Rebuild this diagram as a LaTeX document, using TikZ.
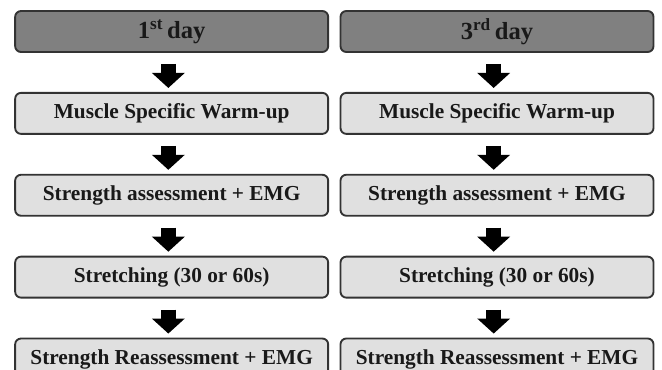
\documentclass[tikz,border=0pt]{standalone}
\usepackage{fontspec}
\setmainfont{Liberation Serif}
\usetikzlibrary{positioning, arrows.meta}

\tikzset{
  daybox/.style={draw=black!80, line width=1.6pt, rounded corners=5pt, fill=black!50,
    minimum width=9.39cm, minimum height=1.23cm, inner sep=0pt, text=black!90,
    font=\bfseries\fontsize{21}{24}\selectfont},
  stepbox/.style={daybox, fill=black!12, font=\bfseries\fontsize{18.2}{21}\selectfont},
  blockarrow/.style={line width=0.45cm, -{Triangle[length=0.45cm,width=0.96cm]},
    shorten <=0.33cm, shorten >=0.12cm, transform canvas={xshift=-0.1cm}}
}

\begin{document}
\begin{tikzpicture}[node distance=1.17cm]

  \useasboundingbox (0,0) rectangle (19.86,-11.07);
  \clip (0,0) rectangle (19.86,-11.07);

  % ==========================================
  % left column: 1st day
  % ==========================================
  \begin{scope}[xshift=0cm]
    \node[daybox] (day1) at (5.15,-0.945) {1\textsuperscript{st}\,day};
    \node[stepbox, below=of day1] (warm1) {Muscle Specific Warm-up};
    \node[stepbox, below=of warm1] (test1) {Strength assessment + EMG};
    \node[stepbox, below=of test1] (stretch1) {Stretching (30 or 60s)};
    \node[stepbox, below=of stretch1] (retest1) {Strength Reassessment + EMG};

    \draw[blockarrow] (day1) -- (warm1);
    \draw[blockarrow] (warm1) -- (test1);
    \draw[blockarrow] (test1) -- (stretch1);
    \draw[blockarrow] (stretch1) -- (retest1);
  \end{scope}

  % ==========================================
  % right column: 3rd day
  % ==========================================
  \begin{scope}[xshift=9.76cm]
    \node[daybox] (day3) at (5.15,-0.945) {3\textsuperscript{rd}\,day};
    \node[stepbox, below=of day3] (warm3) {Muscle Specific Warm-up};
    \node[stepbox, below=of warm3] (test3) {Strength assessment + EMG};
    \node[stepbox, below=of test3] (stretch3) {Stretching (30 or 60s)};
    \node[stepbox, below=of stretch3] (retest3) {Strength Reassessment + EMG};

    \draw[blockarrow] (day3) -- (warm3);
    \draw[blockarrow] (warm3) -- (test3);
    \draw[blockarrow] (test3) -- (stretch3);
    \draw[blockarrow] (stretch3) -- (retest3);
  \end{scope}

\end{tikzpicture}
\end{document}
